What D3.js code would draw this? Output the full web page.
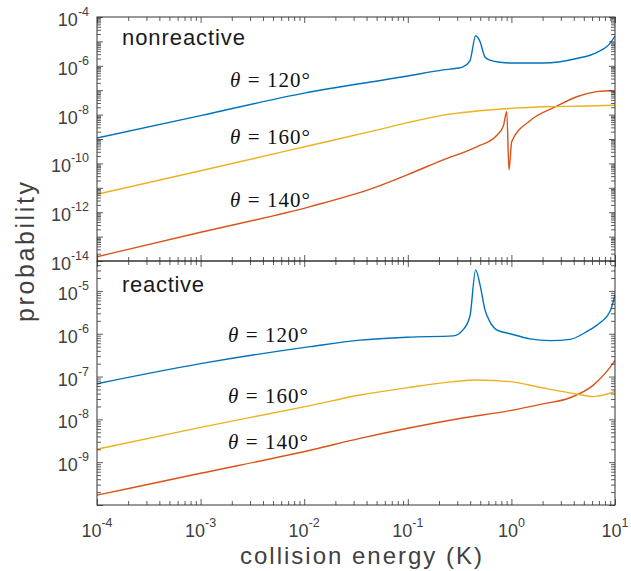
<!DOCTYPE html>
<html>
<head>
<meta charset="utf-8">
<script src="https://cdnjs.cloudflare.com/ajax/libs/d3/7.8.5/d3.min.js"></script>
<style>
body { margin: 0; background: #fff; }
svg { display: block; }
.tick text { display: none; }
</style>
</head>
<body>
<div id="chart"></div>
<script>
// collision energy (K) / probability
// nonreactive panel
var nrE120 = [1e-4, 1e-3, 1e-2, 0.1, 0.22, 0.296, 0.341, 0.398, 0.452, 0.498, 0.556, 0.621, 0.776, 1.0, 2.02, 4.27, 6.65, 8.95, 10];
var nrP120 = [1.1e-9, 9.1e-9, 7.6e-8, 3.8e-7, 6.8e-7, 7.9e-7, 9.1e-7, 1.6e-6, 1.7e-5, 9.8e-6, 2.3e-6, 1.7e-6, 1.4e-6, 1.3e-6, 1.3e-6, 2.0e-6, 3.5e-6, 8.3e-6, 1.66e-5];
var nrE140 = [1e-4, 1e-3, 0.0114, 0.05, 0.1, 0.22, 0.462, 0.721, 0.836, 0.902, 0.948, 1.007, 1.51, 2.74, 4.27, 6.65, 8.95, 10];
var nrP140 = [1.5e-14, 1.5e-13, 1.7e-12, 1.1e-11, 3.5e-11, 1.4e-10, 4.8e-10, 1.4e-9, 3.4e-9, 1.3e-8, 5.4e-11, 7.8e-10, 5.6e-9, 2.2e-8, 5.4e-8, 8.7e-8, 9.5e-8, 7.9e-8];
var nrE160 = [1e-4, 1e-3, 0.0114, 0.05, 0.1, 0.22, 0.97, 2.02, 4.27, 10];
var nrP160 = [5.4e-12, 5.0e-11, 5.4e-10, 2.3e-9, 4.7e-9, 9.5e-9, 1.8e-8, 2.1e-8, 2.2e-8, 2.4e-8];
// reactive panel
var rE120 = [1e-4, 1e-3, 0.0114, 0.0346, 0.1, 0.275, 0.341, 0.398, 0.452, 0.498, 0.556, 0.621, 0.721, 0.97, 1.51, 2.36, 3.68, 5.33, 7.16, 8.95, 10];
var rP120 = [6.8e-8, 2.0e-7, 5.0e-7, 7.1e-7, 8.3e-7, 8.9e-7, 1.23e-6, 2.6e-6, 3.1e-5, 1.38e-5, 3.6e-6, 1.9e-6, 1.23e-6, 1.0e-6, 7.6e-7, 6.9e-7, 7.4e-7, 1.12e-6, 1.8e-6, 3.3e-6, 8.0e-6];
var rE140 = [1e-4, 1e-3, 0.0114, 0.0346, 0.1, 0.319, 0.97, 2.02, 3.68, 6.18, 8.3, 10];
var rP140 = [1.7e-10, 5.5e-10, 1.9e-9, 3.6e-9, 6.2e-9, 1.05e-8, 1.6e-8, 2.3e-8, 3.2e-8, 6.3e-8, 1.3e-7, 2.4e-7];
var rE160 = [1e-4, 1e-3, 0.0114, 0.0346, 0.1, 0.275, 0.462, 0.97, 2.02, 4.27, 6.18, 7.71, 10];
var rP160 = [2.0e-9, 6.5e-9, 2.1e-8, 3.7e-8, 5.5e-8, 7.6e-8, 8.3e-8, 7.6e-8, 5.4e-8, 3.9e-8, 3.4e-8, 3.7e-8, 4.5e-8];

var xTickExp = [-4, -3, -2, -1, 0, 1];
var topTickExp = [-4, -6, -8, -10, -12, -14];
var botTickExp = [-5, -6, -7, -8, -9];

var width = 631, height = 571;
// plot box (names avoid window.top etc.)
var pL = 97, pR = 615, pT = 17, pM = 261, pB = 505;

var blue = '#0072BD', red = '#D95319', yellow = '#EDB120';
var axisColor = '#333';
var labelColor = '#404040';

var svg = d3.select('#chart')
  .append('svg')
  .attr('width', width)
  .attr('height', height)
  .style('font-family', 'Liberation Sans, Arial, Helvetica, sans-serif');

var x = d3.scaleLog().domain([1e-4, 10]).range([pL, pR]);
var yTop = d3.scaleLog().domain([1e-14, 1e-4]).range([pM, pT]);
var yBot = d3.scaleLog().domain([1e-10, 5e-5]).range([pB, pM]);

function zip(e, p) {
    return e.map(function (d, i) { return [d, p[i]]; });
}

// major ticks at each decade, minor ticks at 2..9
function logTicks(domain) {
    var lo = Math.floor(Math.log10(domain[0])), hi = Math.ceil(Math.log10(domain[1]));
    var major = [], minor = [];
    for (var n = lo; n <= hi; n++) {
        var b = Math.pow(10, n);
        if (b >= domain[0] * 0.999 && b <= domain[1] * 1.001) major.push(b);
        for (var k = 2; k <= 9; k++) {
            var v = k * b;
            if (v > domain[0] && v < domain[1]) minor.push(v);
        }
    }
    return { major: major, minor: minor };
}

function tickSet(g, axis, values, size, tx, ty) {
    g.append('g')
      .attr('transform', 'translate(' + tx + ',' + ty + ')')
      .call(axis.tickValues(values).tickSize(-size).tickSizeOuter(0).tickFormat(''))
      .call(function (s) { s.select('.domain').remove(); })
      .selectAll('line')
      .attr('stroke', axisColor)
      .attr('stroke-width', 0.8);
}

function drawPanel(y, y0, y1, series, clipId) {
    var g = svg.append('g');

    g.append('clipPath').attr('id', clipId)
      .append('rect')
      .attr('x', pL).attr('y', y1)
      .attr('width', pR - pL).attr('height', y0 - y1);

    var line = d3.line()
      .curve(d3.curveMonotoneX)
      .x(function (d) { return x(d[0]); })
      .y(function (d) { return y(d[1]); });

    series.forEach(function (s) {
        g.append('path')
          .datum(s.data)
          .attr('d', line)
          .attr('fill', 'none')
          .attr('stroke', s.color)
          .attr('stroke-width', 1.4)
          .attr('stroke-linejoin', 'round')
          .attr('clip-path', 'url(#' + clipId + ')');
    });

    var xt = logTicks(x.domain());
    var yt = logTicks(y.domain());

    tickSet(g, d3.axisBottom(x), xt.major, 6, 0, y0);
    tickSet(g, d3.axisBottom(x), xt.minor, 4, 0, y0);
    tickSet(g, d3.axisTop(x), xt.major, 6, 0, y1);
    tickSet(g, d3.axisTop(x), xt.minor, 4, 0, y1);
    tickSet(g, d3.axisLeft(y), yt.major, 6, pL, 0);
    tickSet(g, d3.axisLeft(y), yt.minor, 4, pL, 0);
    tickSet(g, d3.axisRight(y), yt.major, 6, pR, 0);
    tickSet(g, d3.axisRight(y), yt.minor, 4, pR, 0);

    g.append('rect')
      .attr('x', pL).attr('y', y1)
      .attr('width', pR - pL).attr('height', y0 - y1)
      .attr('fill', 'none')
      .attr('stroke', axisColor)
      .attr('stroke-width', 1);

    return g;
}

function powLabel(g, exp, px, py, anchor) {
    var t = g.append('text')
      .attr('x', px).attr('y', py)
      .attr('text-anchor', anchor)
      .attr('fill', labelColor)
      .style('font-size', '18px');
    t.append('tspan').text('10');
    t.append('tspan')
      .attr('dy', -10)
      .style('font-size', '12.5px')
      .text(exp < 0 ? '-' + (-exp) : '' + exp);
}

function yLabels(g, y, exps) {
    exps.forEach(function (e) {
        powLabel(g, e, 89, y(Math.pow(10, e)) + 9, 'end');
    });
}

function thetaLabel(g, angle, px, py) {
    var t = g.append('text')
      .attr('x', px).attr('y', py)
      .attr('text-anchor', 'end')
      .attr('fill', '#111')
      .attr('textLength', 80)
      .style('font-family', 'Liberation Serif, Times New Roman, serif')
      .style('font-size', '21px');
    t.append('tspan').style('font-style', 'italic').text('\u03b8');
    t.append('tspan').text(' = ' + angle + '\u00b0');
}

function panelTitle(g, txt, px, py, len) {
    g.append('text')
      .attr('x', px).attr('y', py)
      .attr('fill', '#1a1a1a')
      .attr('textLength', len)
      .style('font-size', '22px')
      .text(txt);
}

// top: nonreactive
var gTop = drawPanel(yTop, pM, pT, [
    { data: zip(nrE120, nrP120), color: blue },
    { data: zip(nrE140, nrP140), color: red },
    { data: zip(nrE160, nrP160), color: yellow }
], 'clipTop');
yLabels(gTop, yTop, topTickExp);
panelTitle(gTop, 'nonreactive', 122, 45, 123);
thetaLabel(gTop, 120, 310, 87);
thetaLabel(gTop, 160, 310, 144);
thetaLabel(gTop, 140, 310, 207);

// bottom: reactive
var gBot = drawPanel(yBot, pB, pM, [
    { data: zip(rE120, rP120), color: blue },
    { data: zip(rE140, rP140), color: red },
    { data: zip(rE160, rP160), color: yellow }
], 'clipBot');
yLabels(gBot, yBot, botTickExp);
panelTitle(gBot, 'reactive', 122, 292, 82);
thetaLabel(gBot, 120, 308, 342);
thetaLabel(gBot, 160, 308, 403);
thetaLabel(gBot, 140, 308, 449);

// x tick labels
xTickExp.forEach(function (e) {
    powLabel(svg, e, x(Math.pow(10, e)), 537, 'middle');
});

// axis titles
svg.append('text')
  .attr('x', (pL + pR) / 2 + 5)
  .attr('y', 564)
  .attr('text-anchor', 'middle')
  .attr('fill', labelColor)
  .attr('textLength', 242)
  .style('font-size', '24px')
  .text('collision energy (K)');

svg.append('text')
  .attr('transform', 'translate(34,252) rotate(-90)')
  .attr('text-anchor', 'middle')
  .attr('fill', labelColor)
  .attr('textLength', 140)
  .style('font-size', '25px')
  .text('probability');
</script>
</body>
</html>
